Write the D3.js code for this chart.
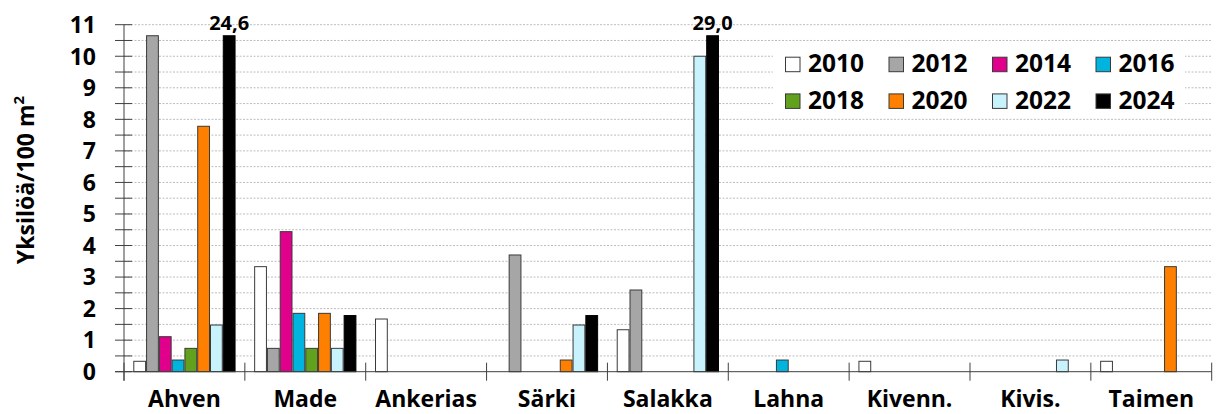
<!DOCTYPE html>
<html><head><meta charset="utf-8">
<script src="https://cdn.jsdelivr.net/npm/d3@7"></script>
<style>
body{margin:0;background:#fff;}
svg text{font-family:"Open Sans",sans-serif;font-weight:bold;fill:#000;}
</style></head>
<body><svg id="c" width="1216" height="414"></svg>
<script>
const categories = ["Ahven","Made","Ankerias","Särki","Salakka","Lahna","Kivenn.","Kivis.","Taimen"];
const years = ["2010","2012","2014","2016","2018","2020","2022","2024"];
const colors = ["#ffffff","#a6a6a6","#e0008c","#00b4e0","#62a11e","#ff8000","#c8f2fc","#000000"];
// values per year, in category order
const v2010 = [0.33, 3.33, 1.67, 0,    1.33, 0,    0.33, 0,    0.33];
const v2012 = [10.7, 0.74, 0,    3.7,  2.59, 0,    0,    0,    0];
const v2014 = [1.11, 4.44, 0,    0,    0,    0,    0,    0,    0];
const v2016 = [0.37, 1.85, 0,    0,    0,    0.37, 0,    0,    0];
const v2018 = [0.74, 0.74, 0,    0,    0,    0,    0,    0,    0];
const v2020 = [7.78, 1.85, 0,    0.37, 0,    0,    0,    0,    3.33];
const v2022 = [1.48, 0.74, 0,    1.48, 10.0, 0,    0,    0.37, 0];
const v2024 = [24.6, 1.78, 0,    1.78, 29.0, 0,    0,    0,    0];
const series = [v2010,v2012,v2014,v2016,v2018,v2020,v2022,v2024];
const yTicks = [0,1,2,3,4,5,6,7,8,9,10,11];

const svg = d3.select("#c");
const X0 = 124, X1 = 1211.7, Y0 = 371.7, Y1 = 24.7;
const yMax = 11, barCap = 10.65;
const x = d3.scaleBand().domain(categories).range([X0, X1]);
const xi = d3.scaleBand().domain(years).range([9.3, x.bandwidth() - 9.3]);
const y = d3.scaleLinear().domain([0, yMax]).range([Y0, Y1]);
const halfTicks = d3.range(0, yMax + 0.01, 0.5);

// gridlines
svg.append("g").selectAll("line").data(halfTicks.filter(d => d > 0)).join("line")
  .attr("x1", X0).attr("x2", X1).attr("y1", d => y(d)).attr("y2", d => y(d))
  .attr("stroke", "#bdbdbd").attr("stroke-width", 1).attr("stroke-dasharray", "2,1.5");

// bars
const data = [];
categories.forEach((c, ci) => years.forEach((yr, yi) => {
  if (series[yi][ci] > 0) data.push({c, yr, yi, v: series[yi][ci]});
}));
svg.append("g").selectAll("rect").data(data).join("rect")
  .attr("x", d => x(d.c) + xi(d.yr) + 0.5)
  .attr("width", xi.bandwidth() - 1)
  .attr("y", d => y(Math.min(d.v, barCap)))
  .attr("height", d => Y0 - y(Math.min(d.v, barCap)))
  .attr("fill", d => colors[d.yi])
  .attr("stroke", d => d.yi === 7 ? "#000" : "#3a3a3a").attr("stroke-width", 1);

// labels for clipped bars
const clipped = data.filter(d => d.v > yMax);
const lg = svg.append("g").selectAll("g").data(clipped).join("g")
  .attr("transform", d => `translate(${x(d.c) + xi(d.yr) + xi.bandwidth()/2},${y(yMax)})`);
lg.append("rect").attr("x", -24).attr("y", -12).attr("width", 48).attr("height", 9).attr("fill", "#fff");
lg.append("text").attr("text-anchor", "middle").attr("y", 5.5).attr("font-size", 20)
  .text(d => d3.format(".1f")(d.v).replace(".", ","));

// y axis
const ya = svg.append("g");
ya.append("line").attr("x1", X0).attr("x2", X0).attr("y1", Y1).attr("y2", Y0 + 9).attr("stroke", "#404040");
ya.selectAll("line.t").data(halfTicks).join("line").attr("class","t")
  .attr("x1", X0 - 9).attr("x2", X0 + 8).attr("y1", d => y(d)).attr("y2", d => y(d)).attr("stroke", "#404040");
ya.selectAll("text").data(yTicks).join("text")
  .attr("x", 96).attr("y", d => y(d)).attr("dy", "0.36em").attr("text-anchor", "end")
  .attr("font-size", 23).text(d => d);

// x axis
const xa = svg.append("g");
xa.append("line").attr("x1", X0 - 9).attr("x2", X1).attr("y1", Y0).attr("y2", Y0).attr("stroke", "#404040");
xa.selectAll("line.t").data(categories.map(c => x(c)).concat([X1])).join("line").attr("class","t")
  .attr("x1", d => d).attr("x2", d => d).attr("y1", Y0 - 9).attr("y2", Y0 + 9).attr("stroke", "#404040");
xa.selectAll("text").data(categories).join("text")
  .attr("x", c => x(c) + x.bandwidth()/2).attr("y", 407).attr("text-anchor", "middle")
  .attr("font-size", 23).text(c => c);

// y title
const yt = svg.append("text").attr("transform", "translate(34,180) rotate(-90)")
  .attr("text-anchor", "middle").attr("font-size", 23);
yt.append("tspan").text("Yksilöä/100 m");
yt.append("tspan").attr("font-size", 15).attr("dy", -10).text("2");

// legend
const leg = svg.append("g");
leg.append("rect").attr("x", 773).attr("y", 47).attr("width", 412).attr("height", 69).attr("fill", "#fff");
const li = leg.selectAll("g").data(years).join("g")
  .attr("transform", (d, i) => `translate(${785 + (i % 4) * 103.5},${56.7 + Math.floor(i / 4) * 36.7})`);
li.append("rect").attr("x", 0.5).attr("y", 0.5).attr("width", 14.5).attr("height", 14.5)
  .attr("fill", (d, i) => colors[i]).attr("stroke", "#3a3a3a");
li.append("text").attr("x", 23).attr("y", 15.5).attr("font-size", 24.5).text(d => d);
</script></body></html>
